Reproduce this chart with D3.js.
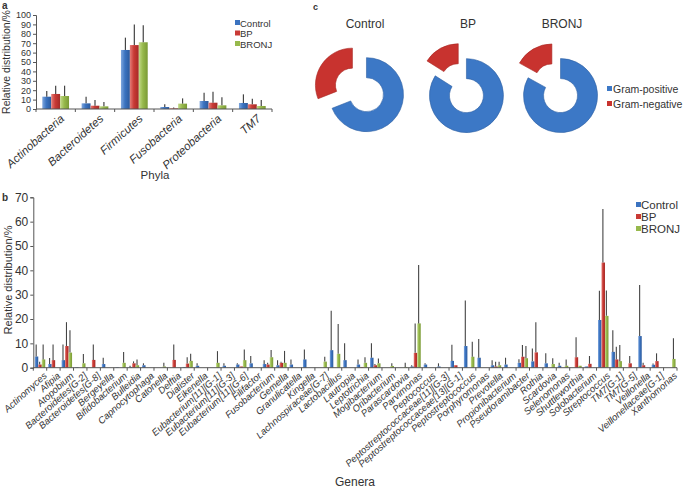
<!DOCTYPE html>
<html><head><meta charset="utf-8">
<script src="https://cdn.jsdelivr.net/npm/d3@7"></script>
<style>
body{margin:0;background:#fff;}
text{font-family:"Liberation Sans",Arial,sans-serif;fill:#333;}
</style></head>
<body>
<svg id="chart" width="685" height="489"></svg>
<script>
// ---------- DATA ----------
const groups = ["Control","BP","BRONJ"];
// Panel a
const phyla = ["Actinobacteria","Bacteroidetes","Firmicutes","Fusobacteria","Proteobacteria","TM7"];
const phylaControl = [13.1, 6.0, 62.8, 2.1, 8.5, 6.4];
const phylaControlSD = [6.0, 7.1, 13.1, 2.9, 8.9, 9.2];
const phylaBP = [16.0, 3.5, 68.0, 0.6, 6.7, 5.0];
const phylaBPSD = [8.8, 6.1, 22.0, 0.9, 11.7, 6.0];
const phylaBRONJ = [13.8, 2.8, 71.0, 5.7, 3.9, 3.2];
const phylaBRONJSD = [11.0, 4.6, 18.0, 5.6, 8.5, 6.4];
const phylaTicks = [0,10,20,30,40,50,60,70,80,90,100];
// Panel b
const genera = ["Actinomyces","Afipia","Atopobium","Bacteroidetes[G-2]","Bacteroidetes[G-8]","Bergeyella","Bifidobacterium","Bulleidia","Capnocytophaga","Catonella","Delftia","Dialister","Eikenella","Eubacterium[11][G-1]","Eubacterium[11][G-3]","Eubacterium[11][G-6]","Filifactor","Fusobacterium","Gemella","Granulicatella","Kingella","Lachnospiraceae[G-7]","Lactobacillus","Lautropia","Leptotrichia","Mogibacterium","Oribacterium","Parascardovia","Parvimonas","Peptococcus","Peptostreptococcaceae[11][G-3]","Peptostreptococcaceae[13][G-1]","Peptostreptococcus","Porphyromonas","Prevotella","Propionibacterium","Pseudoramibacter","Rothia","Scardovia","Selenomonas","Shuttleworthia","Solobacterium","Streptococcus","TM7[G-1]","TM7[G-5]","Veillonella","Veillonellaceae[G-1]","Xanthomonas"];
const genControl = [4.6,1.5,3.1,0.2,0,1.5,0.2,0.3,1.0,0,0,0.3,0.8,0,0.8,1.3,1.8,1.5,1.0,1.3,3.4,0,7.2,3.1,1.3,4.1,0,0,0.5,1.3,0.5,2.8,8.9,4.1,1.0,1.3,2.0,2.6,1.8,0.8,0,0.5,19.6,6.5,0,13.0,1.2,0];
const genControlSD = [4.9,2.5,6.4,0,0,2.6,0,0.5,0.8,0,0,0,1.0,0,1.0,0.5,3.0,1.6,2.1,2.1,4.1,0,16.2,6.9,2.1,5.9,0,0,0.5,0.5,1.3,6.6,18.7,7.7,2.1,2.8,1.5,5.3,4.1,1.2,0,0,12.0,8.9,0,21.0,0.5,0];
const genBP = [1.3,3.1,8.9,0,3.2,0,0,1.8,0,0,3.2,1.7,0,0,0,0.5,0,1.3,2.0,0,0,0,0,0,0.3,1.0,0,0,6.1,0,0,1.0,0,0,0.5,0,4.5,6.3,0,0,4.3,1.6,43.2,3.4,1.8,1.0,2.7,0];
const genBPSD = [1.1,6.4,9.8,0,6.3,0,0,0.8,0,0,6.3,2.6,0,0,0,0,0,0.7,0.4,0,0,0,0,0,0,0.5,0,0,12.1,0,0,0,0,0,1.9,0,4.8,12.4,0,0,8.2,3.2,22.0,5.2,3.0,1.0,3.2,0];
const genBRONJ = [3.4,0,6.2,1.8,0,0,2.0,1.0,0,0.5,0,2.8,0,2.0,0,3.1,0,4.3,2.0,0,0,2.5,5.7,0,2.0,1.8,0.7,0.3,18.2,0,0,0,4.5,0,1.0,0,3.9,0,1.5,0.8,0.8,0,21.3,2.7,0,0,0,3.6];
const genBRONJSD = [6.1,0,9.2,3.8,0,0,4.4,2.4,0,1.5,0,2.9,0,4.8,0,4.4,0,3.0,4.9,0,0,2.0,12.3,0,2.3,2.0,1.1,1.7,24.0,0,0,0,6.2,0,1.4,0,5.0,0,2.4,2.6,0,0,10.4,6.6,0,0,0,8.5];
const generaTicks = [0,10,20,30,40,50,60,70];
// Panel c
const gramLabels = ["Gram-positive","Gram-negative"];
const gramPositive = [69, 84, 83];
const gramNegative = [31, 16, 17];

// ---------- STYLE ----------
const colors = {Control:"#3b73c0", BP:"#c93a35", BRONJ:"#97b94c"};
const light = {Control:"#7ea6dd", BP:"#e47d78", BRONJ:"#c3da8a"};
const dark = {Control:"#2c5a9c", BP:"#a42a26", BRONJ:"#7a9a35"};
const svg = d3.select("#chart");
const defs = svg.append("defs");
groups.forEach(g=>{
  const lg = defs.append("linearGradient").attr("id","grad-"+g).attr("x1","0").attr("x2","1").attr("y1","0").attr("y2","0");
  lg.append("stop").attr("offset","0%").attr("stop-color",light[g]);
  lg.append("stop").attr("offset","45%").attr("stop-color",colors[g]);
  lg.append("stop").attr("offset","100%").attr("stop-color",dark[g]);
});
const axisColor = "#555";
function styleAxis(sel){
  sel.selectAll("path,line").attr("stroke",axisColor).attr("stroke-width",1);
  sel.selectAll("text").style("font-family",'"Liberation Sans",Arial,sans-serif').attr("fill","#333");
}

// ---------- PANEL A ----------
{
  const L=36, R=272;
  const x0 = d3.scaleBand().domain(phyla).range([L,R]).paddingInner(0.32).paddingOuter(0.16);
  const x1 = d3.scaleBand().domain(groups).range([0,x0.bandwidth()]);
  const y = d3.scaleLinear().domain([0,100]).range([109,15]);
  const g = svg.append("g");
  const means = {Control:phylaControl, BP:phylaBP, BRONJ:phylaBRONJ};
  const sds = {Control:phylaControlSD, BP:phylaBPSD, BRONJ:phylaBRONJSD};
  const rows = [];
  phyla.forEach((p,i)=>groups.forEach(gr=>rows.push({p,gr,v:means[gr][i],sd:sds[gr][i]})));
  g.selectAll("rect.bar").data(rows).join("rect")
    .attr("x",d=>x0(d.p)+x1(d.gr)).attr("width",x1.bandwidth())
    .attr("y",d=>y(d.v)).attr("height",d=>y(0)-y(d.v))
    .attr("fill",d=>`url(#grad-${d.gr})`);
  g.selectAll("line.err").data(rows.filter(d=>d.sd>0)).join("line")
    .attr("x1",d=>x0(d.p)+x1(d.gr)+x1.bandwidth()/2).attr("x2",d=>x0(d.p)+x1(d.gr)+x1.bandwidth()/2)
    .attr("y1",d=>y(d.v)).attr("y2",d=>y(d.v+d.sd))
    .attr("stroke","#444").attr("stroke-width",1.2);
  const ya = g.append("g").attr("transform",`translate(${L},0)`)
    .call(d3.axisLeft(y).tickValues(phylaTicks).tickSize(3).tickPadding(2));
  styleAxis(ya);
  ya.selectAll("text").style("font-size","9px");
  const xa = g.append("g").attr("transform",`translate(0,${y(0)})`)
    .call(d3.axisBottom(x0).tickSize(0).tickPadding(0));
  styleAxis(xa);
  xa.select(".domain").attr("d",`M${L},0H${R}`);
  xa.selectAll("line.bt").data(d3.range(phyla.length+1)).join("line")
    .attr("x1",i=>L+(R-L)*i/phyla.length).attr("x2",i=>L+(R-L)*i/phyla.length)
    .attr("y1",0).attr("y2",3).attr("stroke",axisColor);
  xa.selectAll(".tick text").attr("x",0).attr("y",0).attr("dy","0.55em").attr("text-anchor","end")
    .attr("transform","translate(5,6) rotate(-42)").style("font-size","11.5px").style("font-style","italic");
  g.append("text").attr("transform","translate(10,62) rotate(-90)").attr("text-anchor","middle")
    .style("font-size","10.5px").text("Relative distribution/%");
  g.append("text").attr("x",155).attr("y",179).attr("text-anchor","middle").style("font-size","11.5px").text("Phyla");
  g.append("text").attr("x",2).attr("y",9).style("font-size","10px").style("font-weight","bold").text("a");
  const lg = g.append("g").attr("transform","translate(235,23)");
  groups.forEach((gr,i)=>{
    lg.append("rect").attr("x",0).attr("y",i*10.5-3).attr("width",5).attr("height",5).attr("fill",colors[gr]);
    lg.append("text").attr("x",5).attr("y",i*10.5+3.5).style("font-size","9.5px").text(gr);
  });
}

// ---------- PANEL C ----------
{
  const g = svg.append("g");
  g.append("text").attr("x",313).attr("y",10).style("font-size","9px").style("font-weight","bold").text("c");
  const centersX = [364, 465, 559];
  const cy = 93;
  const pie = d3.pie().sort(null).value(d=>d);
  const arc = d3.arc().innerRadius(17).outerRadius(37);
  const donutColors = ["#3c78c6","#c8332f"];
  const explode = [3, 14];
  groups.forEach((gr,i)=>{
    const dg = g.append("g").attr("transform",`translate(${centersX[i]},${cy})`);
    const arcs = pie([gramPositive[i], gramNegative[i]]);
    dg.selectAll("path").data(arcs).join("path")
      .attr("d",arc)
      .attr("transform",(d,j)=>{const m=(d.startAngle+d.endAngle)/2; return `translate(${Math.sin(m)*explode[j]},${-Math.cos(m)*explode[j]})`;})
      .attr("fill",(d,j)=>donutColors[j]).attr("stroke",(d,j)=>j?"#a82622":"#2d5fa3").attr("stroke-width",0.6);
    g.append("text").attr("x",centersX[i]+ (i===0?1:3)).attr("y",28).attr("text-anchor","middle").style("font-size","12px").text(gr);
  });
  const lg = g.append("g").attr("transform","translate(607,89)");
  gramLabels.forEach((l,i)=>{
    lg.append("rect").attr("x",0).attr("y",i*15-3).attr("width",5).attr("height",5).attr("fill",donutColors[i]);
    lg.append("text").attr("x",6).attr("y",i*15+4).style("font-size","10.5px").text(l);
  });
}

// ---------- PANEL B ----------
{
  const L=33.3, R=677;
  const x0 = d3.scaleBand().domain(genera).range([L,R]).paddingInner(0.22).paddingOuter(0.11);
  const x1 = d3.scaleBand().domain(groups).range([0,x0.bandwidth()]);
  const y = d3.scaleLinear().domain([0,70]).range([367.7,197.3]);
  const g = svg.append("g");
  const means = {Control:genControl, BP:genBP, BRONJ:genBRONJ};
  const sds = {Control:genControlSD, BP:genBPSD, BRONJ:genBRONJSD};
  const rows = [];
  genera.forEach((p,i)=>groups.forEach(gr=>rows.push({p,gr,v:means[gr][i],sd:sds[gr][i]})));
  g.selectAll("rect.bar").data(rows.filter(d=>d.v>0)).join("rect")
    .attr("x",d=>x0(d.p)+x1(d.gr)).attr("width",x1.bandwidth())
    .attr("y",d=>y(d.v)).attr("height",d=>y(0)-y(d.v))
    .attr("fill",d=>`url(#grad-${d.gr})`);
  g.selectAll("line.err").data(rows.filter(d=>d.sd>0)).join("line")
    .attr("x1",d=>x0(d.p)+x1(d.gr)+x1.bandwidth()*0.4).attr("x2",d=>x0(d.p)+x1(d.gr)+x1.bandwidth()*0.4)
    .attr("y1",d=>y(d.v)).attr("y2",d=>y(d.v+d.sd))
    .attr("stroke","#444").attr("stroke-width",1.1);
  const ya = g.append("g").attr("transform",`translate(${L},0)`)
    .call(d3.axisLeft(y).tickValues(generaTicks).tickSize(3).tickPadding(2));
  styleAxis(ya);
  ya.selectAll("text").style("font-size","12px");
  const xa = g.append("g").attr("transform",`translate(0,${y(0)})`)
    .call(d3.axisBottom(x0).tickSize(0).tickPadding(0));
  styleAxis(xa);
  xa.select(".domain").attr("d",`M${L},0H${R}`);
  xa.selectAll("line.bt").data(d3.range(genera.length+1)).join("line")
    .attr("x1",i=>L+(R-L)*i/genera.length).attr("x2",i=>L+(R-L)*i/genera.length)
    .attr("y1",0).attr("y2",3).attr("stroke",axisColor);
  xa.selectAll(".tick text").attr("x",0).attr("y",0).attr("dy","0.55em").attr("text-anchor","end")
    .attr("transform","translate(4,5) rotate(-42)").style("font-size","9.5px").style("font-style","italic");
  g.append("text").attr("transform","translate(12,280) rotate(-90)").attr("text-anchor","middle")
    .style("font-size","11px").text("Relative distribution/%");
  g.append("text").attr("x",355).attr("y",486).attr("text-anchor","middle").style("font-size","12px").text("Genera");
  g.append("text").attr("x",2).attr("y",201).style("font-size","10px").style("font-weight","bold").text("b");
  const lg = g.append("g").attr("transform","translate(636,205)");
  groups.forEach((gr,i)=>{
    lg.append("rect").attr("x",0).attr("y",i*12-3).attr("width",5).attr("height",5).attr("fill",colors[gr]);
    lg.append("text").attr("x",5).attr("y",i*12+4).style("font-size","11.5px").text(gr);
  });
}
</script>
</body></html>
